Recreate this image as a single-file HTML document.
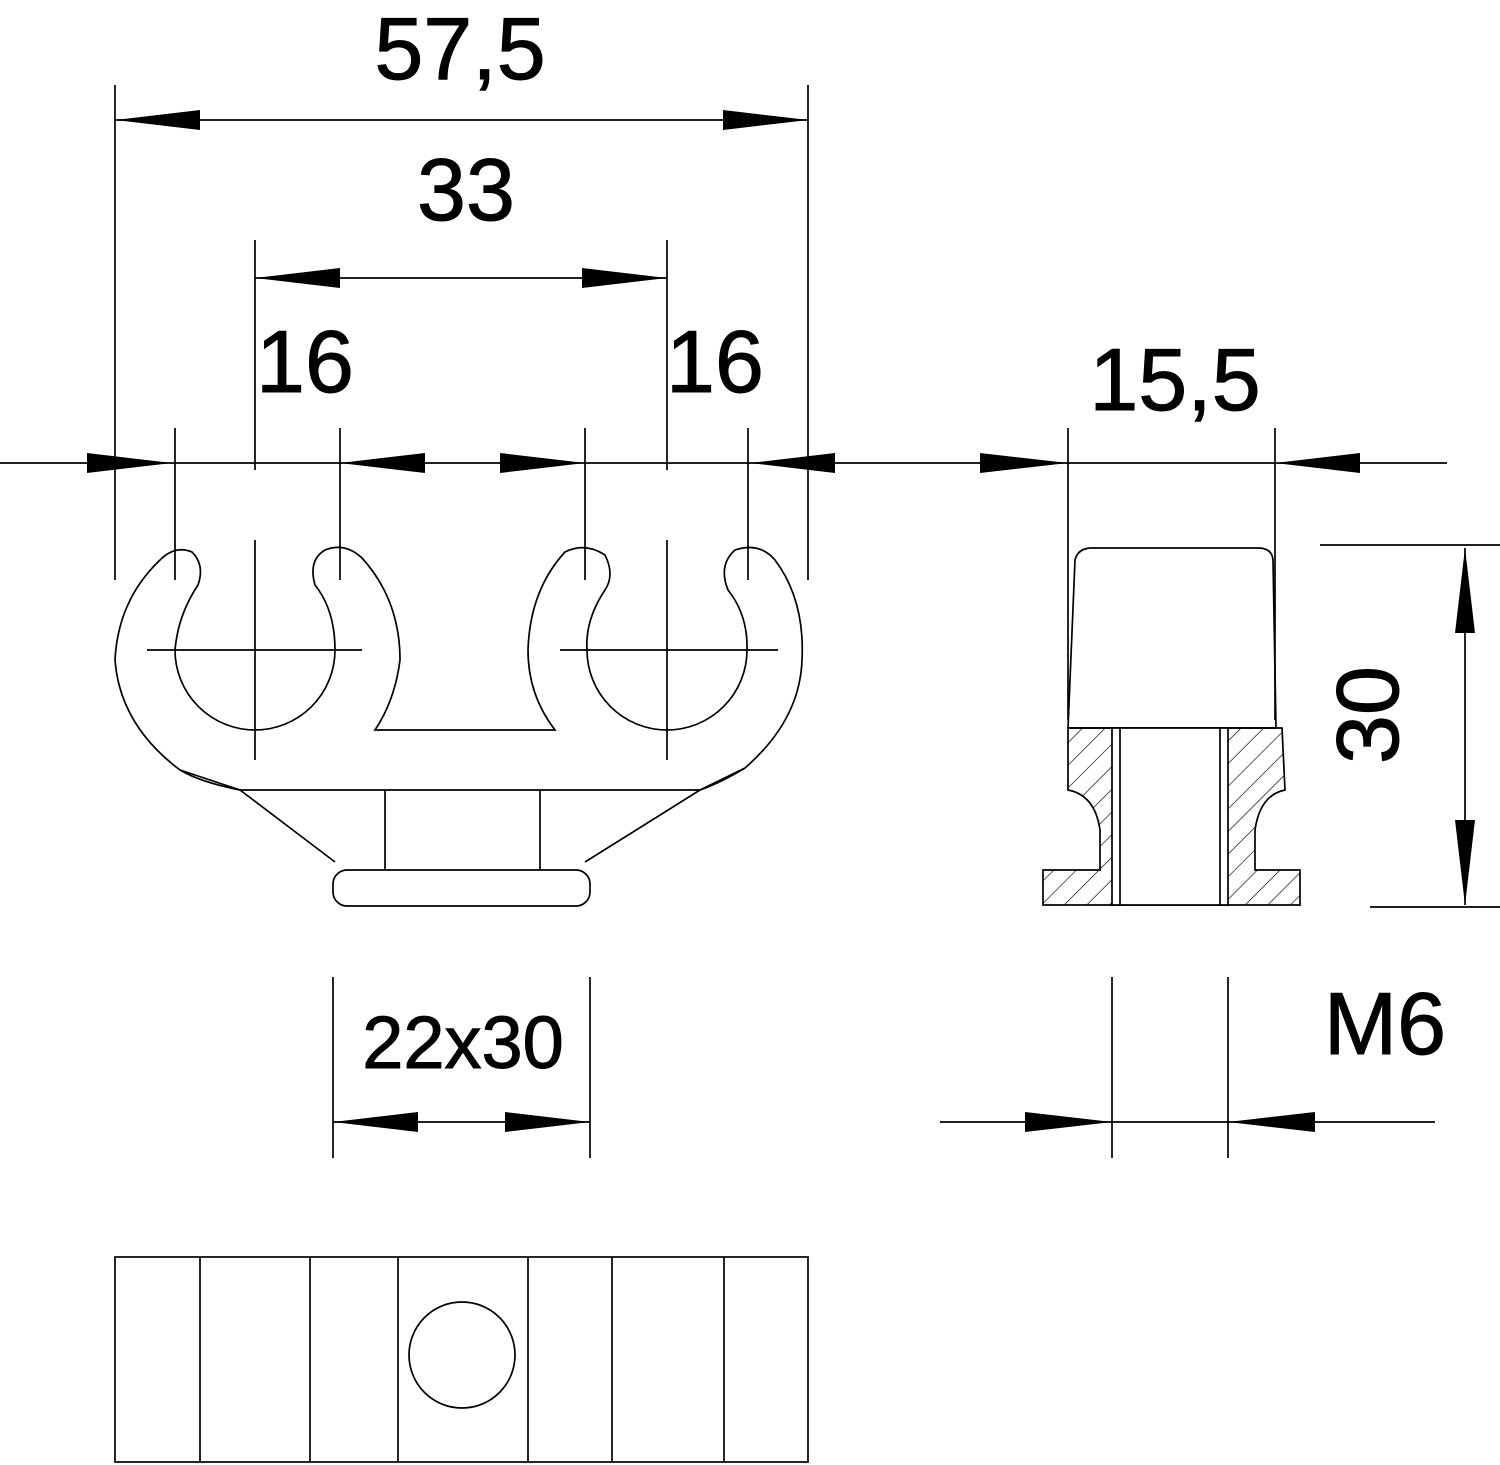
<!DOCTYPE html>
<html><head><meta charset="utf-8"><style>html,body{margin:0;padding:0;background:#fff}svg{display:block}</style></head>
<body>
<svg width="1500" height="1465" viewBox="0 0 1500 1465" xmlns="http://www.w3.org/2000/svg" font-family="Liberation Sans, sans-serif">
<defs>
<pattern id="h" patternUnits="userSpaceOnUse" width="16" height="16" patternTransform="rotate(45)">
<line x1="0" y1="0" x2="0" y2="16" stroke="#000" stroke-width="1.3"/>
</pattern>
</defs>
<g stroke="#000" stroke-width="1.7" fill="none">
<line x1="115" y1="85" x2="115" y2="580"/>
<line x1="808" y1="85" x2="808" y2="580"/>
<line x1="255" y1="240" x2="255" y2="470"/>
<line x1="667" y1="240" x2="667" y2="470"/>
<line x1="175" y1="428" x2="175" y2="580"/>
<line x1="340" y1="428" x2="340" y2="580"/>
<line x1="585" y1="428" x2="585" y2="580"/>
<line x1="748" y1="428" x2="748" y2="580"/>
<line x1="1068" y1="428" x2="1068" y2="720"/>
<line x1="1275" y1="428" x2="1275" y2="720"/>
<line x1="115" y1="120" x2="808" y2="120"/>
<line x1="255" y1="278" x2="667" y2="278"/>
<line x1="0" y1="463" x2="1447" y2="463"/>
<line x1="255" y1="540" x2="255" y2="760"/>
<line x1="147" y1="650" x2="362" y2="650"/>
<line x1="667" y1="540" x2="667" y2="760"/>
<line x1="560" y1="650" x2="778" y2="650"/>
<line x1="1465" y1="548" x2="1465" y2="905"/>
<line x1="1320" y1="545" x2="1500" y2="545"/>
<line x1="1370" y1="907" x2="1500" y2="907"/>
<line x1="1112" y1="977" x2="1112" y2="1158"/>
<line x1="1228" y1="977" x2="1228" y2="1158"/>
<line x1="940" y1="1122" x2="1435" y2="1122"/>
<line x1="333" y1="977" x2="333" y2="1158"/>
<line x1="590" y1="977" x2="590" y2="1158"/>
<line x1="333" y1="1122" x2="590" y2="1122"/>
<path d="M160,560 Q175,545 192,552 Q205,565 198,585 Q178,615 175,650 A80,80 0 0 0 335,650 Q335,610 315,585 Q308,560 325,550 Q345,542 362,558 Q400,600 400,660 Q395,700 375,730 L555,730 Q528,695 528,650 Q530,590 565,552 Q585,542 605,555 Q615,575 605,590 Q585,620 587,650 A80,80 0 0 0 747,650 Q748,615 728,590 Q718,565 735,550 Q760,542 775,560 Q805,600 802,660 Q800,720 745,768 Q720,783 700,790 L240,790 Q200,782 180,770 Q120,725 115,660 Q118,600 160,560 Z"/>
<path d="M180,770 L240,790 L335,862"/>
<path d="M745,768 L700,790 L585,862"/>
<line x1="385" y1="790" x2="385" y2="870"/>
<line x1="540" y1="790" x2="540" y2="870"/>
<rect x="333" y="870" width="257" height="36" rx="14"/>
<path d="M1068,728 L1075,560 Q1078,548 1092,548 L1258,548 Q1272,548 1273,560 L1276,728 Z"/>
<path d="M1068,728 L1068,790 Q1095,795 1100,830 L1100,870 L1043,870 L1043,905 L1300,905 L1300,870 L1255,870 L1255,830 Q1260,795 1285,790 L1282,728 Z" fill="url(#h)"/>
<rect x="1112" y="728" width="116" height="177" fill="#fff"/>
<line x1="1120" y1="728" x2="1120" y2="905"/>
<line x1="1220" y1="728" x2="1220" y2="905"/>
<rect x="115" y="1257" width="693" height="205"/>
<line x1="200" y1="1257" x2="200" y2="1462"/>
<line x1="310" y1="1257" x2="310" y2="1462"/>
<line x1="398" y1="1257" x2="398" y2="1462"/>
<line x1="528" y1="1257" x2="528" y2="1462"/>
<line x1="612" y1="1257" x2="612" y2="1462"/>
<line x1="724" y1="1257" x2="724" y2="1462"/>
<circle cx="462" cy="1355" r="53"/>
</g>
<g fill="#000">
<polygon points="115,120 200,110 200,130"/>
<polygon points="808,120 723,110 723,130"/>
<polygon points="255,278 340,268 340,288"/>
<polygon points="667,278 582,268 582,288"/>
<polygon points="172,463 87,453 87,473"/>
<polygon points="340,463 425,453 425,473"/>
<polygon points="585,463 500,453 500,473"/>
<polygon points="750,463 835,453 835,473"/>
<polygon points="1068,463 980,453 980,473"/>
<polygon points="1275,463 1360,453 1360,473"/>
<polygon points="1465,548 1455,633 1475,633"/>
<polygon points="1465,905 1455,820 1475,820"/>
<polygon points="1112,1122 1025,1112 1025,1132"/>
<polygon points="1228,1122 1315,1112 1315,1132"/>
<polygon points="333,1122 418,1112 418,1132"/>
<polygon points="590,1122 505,1112 505,1132"/>
</g>
<g fill="#000" font-size="88" text-anchor="middle" stroke="#000" stroke-width="1">
<text x="460" y="79">57,5</text>
<text x="466" y="220">33</text>
<text x="305" y="392">16</text>
<text x="715" y="392">16</text>
<text x="1175" y="410">15,5</text>
<text x="1385" y="1054">M6</text>
<text x="463" y="1068" font-size="74">22x30</text>
<text transform="translate(1398,715) rotate(-90)">30</text>
</g>
</svg>
</body></html>
